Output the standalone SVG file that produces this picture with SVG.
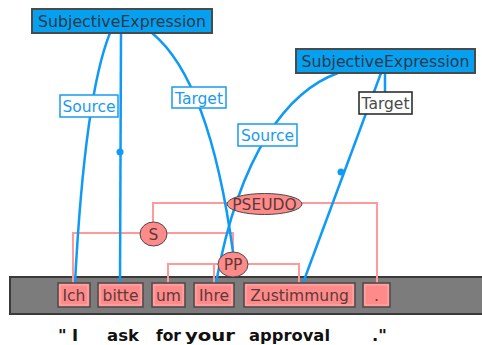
<svg xmlns="http://www.w3.org/2000/svg" width="482" height="345" viewBox="0 0 482 345">
<style>
.se{fill:#06a0f0;stroke:#4a4a4a;stroke-width:2}
.set{font-family:"DejaVu Sans",sans-serif;font-size:15.5px;fill:#2a3a4a;text-anchor:middle}
.bl{fill:none;stroke:#0f9af5;stroke-width:2.5}
.pk{fill:none;stroke:#ff9a9a;stroke-width:2}
.lab{fill:#fff;stroke:#1a9af0;stroke-width:1.5}
.labt{font-family:"DejaVu Sans",sans-serif;font-size:15.5px;fill:#1a9af0;text-anchor:middle}
.tok{fill:#ff8a8a;stroke:#4a4a4a;stroke-width:1.5}
.toki{fill:none;stroke:#ffb0b0;stroke-width:1}
.tokt{font-family:"DejaVu Sans",sans-serif;font-size:15.5px;fill:#5a3a3a;text-anchor:middle}
.nd{fill:#ff8a8a;stroke:#4a4a4a;stroke-width:1}
.ndt{font-family:"DejaVu Sans",sans-serif;font-size:15.5px;fill:#5a3a3a;text-anchor:middle}
.gl{font-family:"DejaVu Sans",sans-serif;font-size:16.5px;font-weight:bold;fill:#111}
</style>
<rect x="0" y="0" width="482" height="345" fill="#fff"/>
<g id="bar"><rect x="10" y="277" width="474" height="37" fill="#7c7c7c" stroke="#3a3a3a" stroke-width="2"/></g>
<g id="connectors">
<path class="pk" d="M227,203 H153 V222"/>
<path class="pk" d="M302,203 H377 V283"/>
<path class="pk" d="M140,233 H73 V283"/>
<path class="pk" d="M167,233 H233 V252"/>
<path class="pk" d="M218,264 H168 V283 M214,264 V283"/>
<path class="pk" d="M248,264 H299 V283"/>
<path class="bl" d="M110,33 C95,70 82,150 75,283"/>
<path class="bl" d="M121,33 L120,283"/>
<circle cx="120" cy="152" r="3.5" fill="#0f9af5"/>
<path class="bl" d="M152,33 C185,60 215,120 233,252"/>
<path class="bl" d="M338,73 C290,90 240,150 216,283"/>
<path class="bl" d="M381,73 L303,283"/>
<path class="bl" d="M385,73 V92"/>
<circle cx="341" cy="172" r="3.5" fill="#0f9af5"/>
</g>
<g id="label-source1"><rect class="lab" x="60" y="95" width="58" height="22"/><text class="labt" x="89" y="112">Source</text></g>
<g id="label-target1"><rect class="lab" x="172" y="87" width="54" height="21"/><text class="labt" x="199" y="104">Target</text></g>
<g id="label-source2"><rect class="lab" x="238" y="124" width="59" height="22"/><text class="labt" x="267.5" y="141">Source</text></g>
<g id="label-target2"><rect x="359" y="92" width="53" height="22" fill="#fff" stroke="#222" stroke-width="1.5"/><text class="labt" x="385.5" y="109" style="fill:#4a4a4a">Target</text></g>
<g id="se1"><rect class="se" x="32" y="9" width="180" height="24"/><text class="set" x="122" y="27" textLength="168" lengthAdjust="spacingAndGlyphs">SubjectiveExpression</text></g>
<g id="se2"><rect class="se" x="296" y="49" width="179" height="24"/><text class="set" x="385.5" y="67" textLength="168" lengthAdjust="spacingAndGlyphs">SubjectiveExpression</text></g>
<g id="pseudo"><ellipse class="nd" cx="264.5" cy="204" rx="37.5" ry="10.5"/><text class="ndt" x="264.5" y="209.5">PSEUDO</text></g>
<g id="s"><ellipse class="nd" cx="153.5" cy="234" rx="13.5" ry="12"/><text class="ndt" x="153.5" y="239.5">S</text></g>
<g id="pp"><ellipse class="nd" cx="233" cy="264.5" rx="15" ry="12.5"/><text class="ndt" x="233" y="270">PP</text></g>
<g id="tok-ich"><rect class="tok" x="58" y="283" width="32" height="24"/><rect class="toki" x="60" y="285" width="28" height="20"/><text class="tokt" x="74" y="300.5">Ich</text></g>
<g id="tok-bitte"><rect class="tok" x="98" y="283" width="45" height="24"/><rect class="toki" x="100" y="285" width="41" height="20"/><text class="tokt" x="120.5" y="300.5">bitte</text></g>
<g id="tok-um"><rect class="tok" x="152" y="283" width="33" height="24"/><rect class="toki" x="154" y="285" width="29" height="20"/><text class="tokt" x="168.5" y="300.5">um</text></g>
<g id="tok-ihre"><rect class="tok" x="194" y="283" width="40" height="24"/><rect class="toki" x="196" y="285" width="36" height="20"/><text class="tokt" x="214" y="300.5">Ihre</text></g>
<g id="tok-zustimmung"><rect class="tok" x="244" y="283" width="111" height="24"/><rect class="toki" x="246" y="285" width="107" height="20"/><text class="tokt" x="299.5" y="300.5">Zustimmung</text></g>
<g id="tok-dot"><rect class="tok" x="363" y="283" width="27" height="24"/><rect class="toki" x="365" y="285" width="23" height="20"/><text class="tokt" x="376.5" y="300.5">.</text></g>
<g id="gloss">
<text class="gl" x="58" y="340.5">"</text>
<text class="gl" x="72" y="340.5">I</text>
<text class="gl" x="107" y="340.5" textLength="32" lengthAdjust="spacingAndGlyphs">ask</text>
<text class="gl" x="156" y="340.5" textLength="25" lengthAdjust="spacingAndGlyphs">for</text>
<text class="gl" x="185" y="340.5" textLength="50" lengthAdjust="spacingAndGlyphs">your</text>
<text class="gl" x="249" y="340.5" textLength="81" lengthAdjust="spacingAndGlyphs">approval</text>
<text class="gl" x="372" y="340.5">."</text>
</g>
</svg>
